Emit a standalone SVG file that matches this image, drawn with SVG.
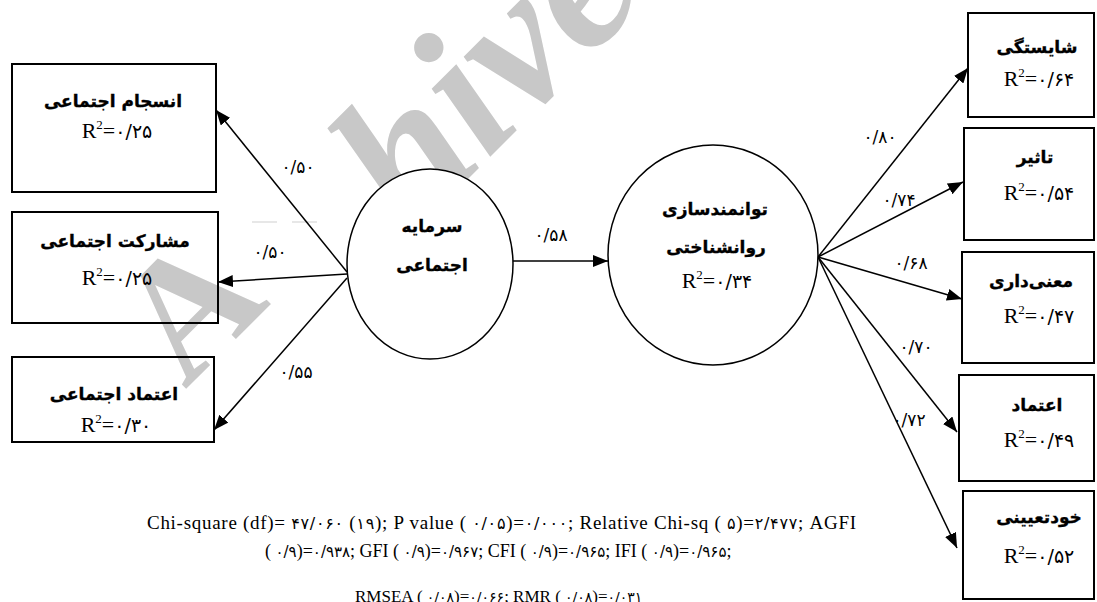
<svg xmlns="http://www.w3.org/2000/svg" width="1097" height="602" viewBox="0 0 1097 602">
<defs>
<style>
.box{fill:none;stroke:#000;stroke-width:2}
.ell{fill:#fff;stroke:#000;stroke-width:1.5}
.fa{font-family:"DejaVu Sans",sans-serif;font-weight:bold;font-size:17px;text-anchor:middle;fill:#000;stroke:#000;stroke-width:0.35}
.r2{font-family:"Liberation Serif","DejaVu Serif",serif;font-size:22px;text-anchor:middle;fill:#000}
.sup{font-size:13px}
.num{font-family:"DejaVu Sans",sans-serif;font-size:19px}
.lbl{font-family:"DejaVu Sans",sans-serif;font-size:17px;text-anchor:middle;fill:#000}
.conn{stroke:#000;stroke-width:1.5;fill:none;marker-end:url(#arr)}
.fit{font-family:"Liberation Serif","DejaVu Sans",serif;font-size:19px;fill:#000}
.d{font-family:"DejaVu Sans",sans-serif;font-size:16px}
.fit2{font-family:"Liberation Serif","DejaVu Sans",serif;font-size:18px;fill:#000}
.d2{font-family:"DejaVu Sans",sans-serif;font-size:15px}
.fit3{font-family:"Liberation Serif","DejaVu Sans",serif;font-size:17px;fill:#000}
.d3{font-family:"DejaVu Sans",sans-serif;font-size:14px}
.wmA{font-family:"Liberation Serif",serif;font-weight:bold;font-size:170px;fill:#c8c8c8}
.wm{font-family:"Liberation Serif",serif;font-weight:bold;font-style:italic;font-size:195px;fill:#c8c8c8}
.dash{stroke:#cfcfcf;stroke-width:1}
</style>
<marker id="arr" markerUnits="userSpaceOnUse" markerWidth="16" markerHeight="12" refX="15" refY="6" orient="auto"><path d="M0,0 L15,6 L0,12 Z" fill="#000"/></marker>
</defs>
<rect width="1097" height="602" fill="#fff"/>
<g id="watermark">
<text class="wmA" transform="translate(185,390) rotate(-45)">A</text>
<text class="wm" transform="translate(410,237) rotate(-45)">hive</text>
<line class="dash" x1="252" y1="222" x2="277" y2="222"/>
<line class="dash" x1="292" y1="222" x2="317" y2="222"/>
</g>

<g id="connectors">
<line class="conn" x1="347" y1="272" x2="216" y2="110"/>
<line class="conn" x1="347" y1="274" x2="218" y2="282"/>
<line class="conn" x1="347" y1="278" x2="214" y2="430"/>
<line class="conn" x1="513" y1="261" x2="608" y2="261"/>
<line class="conn" x1="818" y1="257" x2="968" y2="68"/>
<line class="conn" x1="818" y1="257" x2="963" y2="182"/>
<line class="conn" x1="818" y1="257" x2="962" y2="299"/>
<line class="conn" x1="818" y1="257" x2="957" y2="432"/>
<line class="conn" x1="818" y1="257" x2="957" y2="548"/>
<text class="lbl" x="298" y="173">۰/۵۰</text>
<text class="lbl" x="270" y="258">۰/۵۰</text>
<text class="lbl" x="296" y="378">۰/۵۵</text>
<text class="lbl" x="551" y="241">۰/۵۸</text>
<text class="lbl" x="880" y="143">۰/۸۰</text>
<text class="lbl" x="899" y="206">۰/۷۴</text>
<text class="lbl" x="911" y="269">۰/۶۸</text>
<text class="lbl" x="916" y="353">۰/۷۰</text>
<text class="lbl" x="909" y="426">۰/۷۲</text>
</g>

<g id="n-ensejam">
<rect class="box" x="12" y="64" width="204" height="128"/>
<text class="fa" x="113" y="107">انسجام اجتماعی</text>
<text class="r2" x="117" y="138">R<tspan class="sup" dy="-9">2</tspan><tspan dy="9">=</tspan><tspan class="num">۰/۲۵</tspan></text>
</g>
<g id="n-mosharekat">
<rect class="box" x="12" y="212" width="206" height="111"/>
<text class="fa" x="115" y="247">مشارکت اجتماعی</text>
<text class="r2" x="117" y="285">R<tspan class="sup" dy="-9">2</tspan><tspan dy="9">=</tspan><tspan class="num">۰/۲۵</tspan></text>
</g>
<g id="n-etemad-ej">
<rect class="box" x="12" y="357" width="202" height="85"/>
<text class="fa" x="114" y="400">اعتماد اجتماعی</text>
<text class="r2" x="116" y="432">R<tspan class="sup" dy="-9">2</tspan><tspan dy="9">=</tspan><tspan class="num">۰/۳۰</tspan></text>
</g>
<g id="n-sarmaye">
<ellipse class="ell" cx="430" cy="264" rx="83" ry="95"/>
<text class="fa" x="432" y="232">سرمایه</text>
<text class="fa" x="432" y="271">اجتماعی</text>
</g>
<g id="n-tavanmand">
<ellipse class="ell" cx="713" cy="255" rx="105" ry="110"/>
<text class="fa" x="715" y="215">توانمندسازی</text>
<text class="fa" x="716" y="253">روانشناختی</text>
<text class="r2" x="717" y="288">R<tspan class="sup" dy="-9">2</tspan><tspan dy="9">=</tspan><tspan class="num">۰/۳۴</tspan></text>
</g>
<g id="n-shayestegi">
<rect class="box" x="968" y="13" width="126" height="104"/>
<text class="fa" x="1037" y="53">شایستگی</text>
<text class="r2" x="1039" y="86">R<tspan class="sup" dy="-9">2</tspan><tspan dy="9">=</tspan><tspan class="num">۰/۶۴</tspan></text>
</g>
<g id="n-tasir">
<rect class="box" x="964" y="128" width="130" height="112"/>
<text class="fa" x="1035" y="163">تاثیر</text>
<text class="r2" x="1039" y="200">R<tspan class="sup" dy="-9">2</tspan><tspan dy="9">=</tspan><tspan class="num">۰/۵۴</tspan></text>
</g>
<g id="n-manidari">
<rect class="box" x="962" y="252" width="132" height="111"/>
<text class="fa" x="1031" y="287">معنی&#x200C;داری</text>
<text class="r2" x="1039" y="323">R<tspan class="sup" dy="-9">2</tspan><tspan dy="9">=</tspan><tspan class="num">۰/۴۷</tspan></text>
</g>
<g id="n-etemad">
<rect class="box" x="959" y="375" width="135" height="106"/>
<text class="fa" x="1037" y="411">اعتماد</text>
<text class="r2" x="1039" y="447">R<tspan class="sup" dy="-9">2</tspan><tspan dy="9">=</tspan><tspan class="num">۰/۴۹</tspan></text>
</g>
<g id="n-khodtayini">
<rect class="box" x="963" y="491" width="131" height="108"/>
<text class="fa" x="1039" y="523">خودتعیینی</text>
<text class="r2" x="1039" y="563">R<tspan class="sup" dy="-9">2</tspan><tspan dy="9">=</tspan><tspan class="num">۰/۵۲</tspan></text>
</g>

<g id="fit-indices" xml:space="preserve">
<text class="fit" x="147" y="529" textLength="709" lengthAdjust="spacing">Chi-square (df)= <tspan class="d">۴۷/۰۶۰</tspan> (<tspan class="d">۱۹</tspan>); P value (  <tspan class="d">۰/۰۵</tspan>)=<tspan class="d">۰/۰۰۰</tspan>; Relative Chi-sq ( <tspan class="d">۵</tspan>)=<tspan class="d">۲/۴۷۷</tspan>; AGFI</text>
<text class="fit2" x="265" y="557">( <tspan class="d2">۰/۹</tspan>)=<tspan class="d2">۰/۹۳۸</tspan>; GFI ( <tspan class="d2">۰/۹</tspan>)=<tspan class="d2">۰/۹۶۷</tspan>; CFI ( <tspan class="d2">۰/۹</tspan>)=<tspan class="d2">۰/۹۶۵</tspan>; IFI ( <tspan class="d2">۰/۹</tspan>)=<tspan class="d2">۰/۹۶۵</tspan>;</text>
<text class="fit3" x="355" y="602">RMSEA ( <tspan class="d3">۰/۰۸</tspan>)=<tspan class="d3">۰/۰۶۶</tspan>; RMR ( <tspan class="d3">۰/۰۸</tspan>)=<tspan class="d3">۰/۰۳۱</tspan></text>
</g>
</svg>
